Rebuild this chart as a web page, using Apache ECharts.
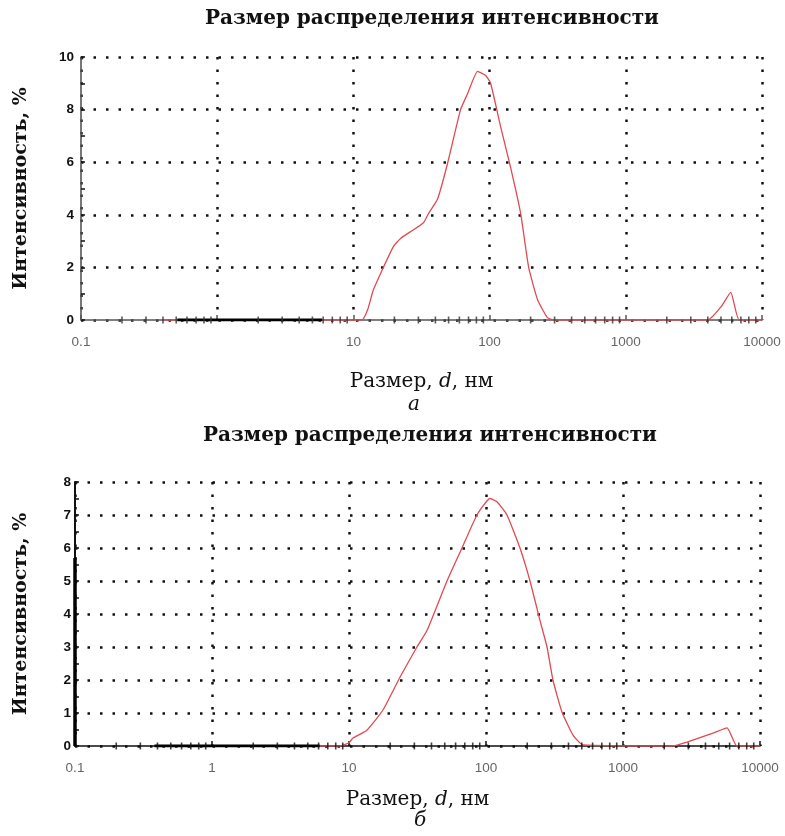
<!DOCTYPE html>
<html>
<head>
<meta charset="utf-8">
<script src="https://cdn.jsdelivr.net/npm/echarts@6/dist/echarts.min.js"></script>
<style>html,body{margin:0;padding:0;background:#fff}#c{width:785px;height:836px}</style>
</head>
<body>
<div id="c"></div>
<script>
// ---- data ----
const titleText = 'Размер распределения интенсивности';
const yName = 'Интенсивность, %';
const panelLabels = ['а', 'б'];

// panel a
const sizeA = [0.4, 11.5, 12.7, 14, 16.6, 19.7, 22.2, 27, 32.7, 35.6, 41.5, 49.1, 61.2, 68.9, 81.6, 93.5, 101.7, 120.5, 142.6, 169, 193.6, 225.5, 267, 305, 4000, 5000, 5900, 6800, 10000];
const intA  = [0, 0, 0.38, 1.14, 2.0, 2.8, 3.1, 3.4, 3.7, 4.05, 4.6, 5.95, 8.0, 8.6, 9.45, 9.3, 9.0, 7.35, 5.8, 4.05, 2.0, 0.76, 0.08, 0, 0, 0.5, 1.05, 0, 0];
const baseA = [0.51, 5.9];

// panel b
const sizeB = [6.1, 8.6, 10, 10.7, 13.5, 17.7, 23.6, 31.3, 37.1, 51.9, 66.8, 85.9, 106.9, 120.3, 142.3, 177, 209.5, 247.9, 278.8, 308, 358.6, 431.6, 510.8, 2317, 2932, 4539, 5745, 6792, 10000];
const intB  = [0, 0, 0.1, 0.24, 0.48, 1.09, 2.09, 3.0, 3.5, 5.0, 6.0, 7.0, 7.5, 7.4, 7.0, 6.0, 5.0, 3.8, 3.0, 2.0, 1.03, 0.33, 0.03, 0, 0.12, 0.39, 0.55, 0, 0];
const baseB = [0.38, 6.1];
const leftBarB = [0, 5.7];

// axes
const xMin = 0.1, xMax = 10000;
const xLabelsA = ['0.1', '', '10', '100', '1000', '10000'];
const xLabelsB = ['0.1', '1', '10', '100', '1000', '10000'];
const yMaxA = 10, yStepA = 2;
const yMaxB = 8, yStepB = 1;
const decades = [0.1, 1, 10, 100, 1000];
const minorMult = [2, 3, 4, 5, 6, 7, 8, 9];

// ---- build ----
const minorTicks = [];
decades.forEach(d => minorMult.forEach(m => minorTicks.push([+(d * m).toPrecision(3), 0])));
const pairs = (xs, ys) => xs.map((x, i) => [x, ys[i]]);

const dotted = { color: '#111', width: 2.5, type: [2.5, 10] };
const serif = 'DejaVu Serif';

function xAxis(gi, labels, nameGap, axisColor) {
  return {
    type: 'log', logBase: 10, min: xMin, max: xMax, gridIndex: gi,
    name: '{n|Размер, }{i|d}{n|, нм}', nameLocation: 'middle', nameGap: nameGap,
    nameTextStyle: { rich: {
      n: { fontFamily: serif, fontSize: 20, color: '#111' },
      i: { fontFamily: serif, fontSize: 20, fontStyle: 'italic', color: '#111' } } },
    axisLine: { show: true, onZero: false, lineStyle: { color: axisColor, width: 1.6 } },
    axisTick: { show: true, inside: true, length: 5, lineStyle: { color: axisColor, width: 1.5 } },
    axisLabel: { color: '#666', fontFamily: 'Liberation Sans', fontSize: 13.5, margin: 15,
      formatter: (v, i) => labels[i] !== undefined ? labels[i] : '' },
    splitLine: { show: true, lineStyle: dotted },
    minorTick: { show: false }
  };
}
function yAxis(gi, max, step, nameGap, axisColor, w, labelMargin) {
  return {
    type: 'value', min: 0, max: max, interval: step, gridIndex: gi,
    name: yName, nameLocation: 'middle', nameGap: nameGap,
    nameTextStyle: { fontFamily: serif, fontSize: 19, fontWeight: 'bold', color: '#111' },
    axisLine: { show: true, lineStyle: { color: axisColor, width: w } },
    axisTick: { show: true, inside: true, length: 4, lineStyle: { color: '#111', width: 1.5 } },
    minorTick: { show: true, splitNumber: 2, length: 4, lineStyle: { color: '#111', width: 1.5 } },
    axisLabel: { color: '#111', fontFamily: 'Liberation Sans', fontWeight: 'bold', fontSize: 13.5, margin: labelMargin },
    splitLine: { show: true, lineStyle: dotted }
  };
}

const red = '#e04a50';
const titleFont = 'bold 20px "DejaVu Serif"';
const option = {
  animation: false,
  backgroundColor: '#fff',
  grid: [
    { left: 81, top: 57, width: 681, height: 263 },
    { left: 75, top: 482, width: 685, height: 264 }
  ],
  xAxis: [xAxis(0, xLabelsA, 52, '#555'), xAxis(1, xLabelsB, 44, '#111')],
  yAxis: [yAxis(0, yMaxA, yStepA, 50, '#555', 1.6, 7), yAxis(1, yMaxB, yStepB, 44, '#111', 2, 4)],
  graphic: [
    { type: 'text', x: 432, y: 9, style: { text: titleText, font: titleFont, fill: '#111', textAlign: 'center' } },
    { type: 'text', x: 430, y: 426, style: { text: titleText, font: titleFont, fill: '#111', textAlign: 'center' } },
    { type: 'text', x: 414, y: 395, style: { text: panelLabels[0], font: 'italic 20px "DejaVu Serif"', fill: '#111', textAlign: 'center' } },
    { type: 'text', x: 420, y: 811, style: { text: panelLabels[1], font: 'italic 20px "DejaVu Serif"', fill: '#111', textAlign: 'center' } }
  ],
  series: [
    { type: 'line', xAxisIndex: 0, yAxisIndex: 0, data: pairs(sizeA, intA), showSymbol: false, smooth: 0.15, lineStyle: { color: red, width: 1.3 }, z: 5 },
    { type: 'line', xAxisIndex: 0, yAxisIndex: 0, data: baseA.map(x => [x, 0]), showSymbol: false, lineStyle: { color: '#000', width: 3 }, z: 6 },
    { type: 'scatter', xAxisIndex: 0, yAxisIndex: 0, data: minorTicks, symbol: 'rect', symbolSize: [1.6, 7], itemStyle: { color: '#333' }, z: 7, silent: true },
    { type: 'line', xAxisIndex: 1, yAxisIndex: 1, data: pairs(sizeB, intB), showSymbol: false, smooth: 0.15, lineStyle: { color: red, width: 1.3 }, z: 5 },
    { type: 'line', xAxisIndex: 1, yAxisIndex: 1, data: baseB.map(x => [x, 0]), showSymbol: false, lineStyle: { color: '#000', width: 3 }, z: 6 },
    { type: 'line', xAxisIndex: 1, yAxisIndex: 1, data: leftBarB.map(y => [xMin, y]), showSymbol: false, lineStyle: { color: '#000', width: 3.5 }, z: 6 },
    { type: 'scatter', xAxisIndex: 1, yAxisIndex: 1, data: minorTicks, symbol: 'rect', symbolSize: [1.6, 7], itemStyle: { color: '#111' }, z: 7, silent: true }
  ]
};
const chart = echarts.init(document.getElementById('c'), null, { renderer: 'canvas' });
chart.setOption(option);
</script>
</body>
</html>
